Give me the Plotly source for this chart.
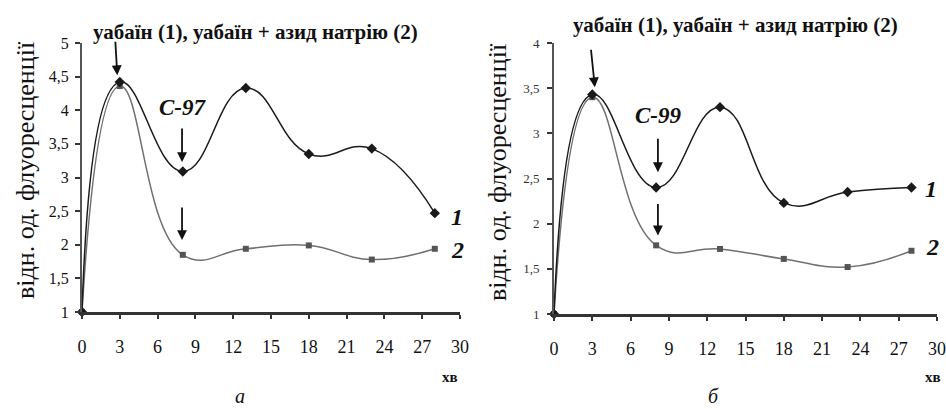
import plotly.graph_objects as go

# ---- data ----
time_a = [0, 3, 8, 13, 18, 23, 28]
a_series1 = [1.0, 4.42, 3.09, 4.33, 3.35, 3.43, 2.47]
a_series2 = [1.0, 4.36, 1.85, 1.94, 1.99, 1.78, 1.94]

time_b = [0, 3, 8, 13, 18, 23, 28]
b_series1 = [1.0, 3.43, 2.40, 3.29, 2.23, 2.35, 2.40]
b_series2 = [1.0, 3.40, 1.76, 1.72, 1.61, 1.52, 1.70]

x_ticks = [0, 3, 6, 9, 12, 15, 18, 21, 24, 27, 30]
a_y_ticks = [1, 1.5, 2, 2.5, 3, 3.5, 4, 4.5, 5]
a_y_ticktext = ["1", "1,5", "2", "2,5", "3", "3,5", "4", "4,5", "5"]
b_y_ticks = [1, 1.5, 2, 2.5, 3, 3.5, 4]
b_y_ticktext = ["1", "1,5", "2", "2,5", "3", "3,5", "4"]

title_text = "уабаїн (1), уабаїн + азид натрію (2)"
y_title = "відн. од. флуоресценції"

W, H = 946, 409
SERIF = "Liberation Serif, DejaVu Serif, serif"
C1 = "#1a1a1a"
C2 = "#707070"


def px(x):
    return x / W


def py(y):
    return 1 - y / H


fig = go.Figure()

for xs, s1, s2, xa, ya in [(time_a, a_series1, a_series2, "x", "y"),
                            (time_b, b_series1, b_series2, "x2", "y2")]:
    fig.add_trace(go.Scatter(x=xs, y=s2, mode="lines+markers", xaxis=xa, yaxis=ya,
                             line=dict(color=C2, width=1.5, shape="spline", smoothing=1.3),
                             marker=dict(symbol="square", size=6, color="#555555"),
                             cliponaxis=False, showlegend=False))
    fig.add_trace(go.Scatter(x=xs, y=s1, mode="lines+markers", xaxis=xa, yaxis=ya,
                             line=dict(color=C1, width=1.5, shape="spline", smoothing=1.3),
                             marker=dict(symbol="diamond", size=8, color=C1),
                             cliponaxis=False, showlegend=False))

xcommon = dict(range=[0, 30], tickvals=x_ticks, showline=True, linecolor="#333333", linewidth=2.5,
               ticks="outside", ticklen=4, tickwidth=1.5, tickcolor="#333333",
               showgrid=False, zeroline=False, ticklabelstandoff=13, automargin=False,
               tickfont=dict(family=SERIF, size=18, color="#111111"))
fig.update_layout(
    width=W, height=H, margin=dict(l=0, r=0, t=0, b=0, pad=0, autoexpand=False),
    paper_bgcolor="white", plot_bgcolor="white",
    xaxis=dict(domain=[px(82), px(460)], anchor="y", **xcommon),
    yaxis=dict(domain=[py(312), py(43)], anchor="x", range=[1, 5], tickvals=a_y_ticks,
               ticktext=a_y_ticktext, showline=True, linecolor="#555555", linewidth=2,
               ticks="outside", ticklen=5, tickwidth=1.5, tickcolor="#333333",
               showgrid=False, zeroline=False, ticklabelstandoff=3, automargin=False,
               tickfont=dict(family=SERIF, size=16, color="#111111")),
    xaxis2=dict(domain=[px(554), px(937)], anchor="y2", **xcommon),
    yaxis2=dict(domain=[py(314), py(43)], anchor="x2", range=[1, 4], tickvals=b_y_ticks,
                ticktext=b_y_ticktext, showline=True, linecolor="#555555", linewidth=2,
                ticks="outside", ticklen=5, tickwidth=1.5, tickcolor="#333333",
                showgrid=False, zeroline=False, ticklabelstandoff=5, automargin=False,
                tickfont=dict(family=SERIF, size=13, color="#333333")),
)

ann = []


def label(text, cx, cy, size, family=SERIF, angle=0):
    ann.append(dict(text=text, x=px(cx), y=py(cy), xref="paper", yref="paper",
                    xanchor="center", yanchor="middle", textangle=angle, showarrow=False,
                    font=dict(family=family, size=size, color="#111111")))


# panel titles
label("<b>" + title_text + "</b>", 255, 32, 21)
label("<b>" + title_text + "</b>", 735, 25, 21)
# y-axis titles
label(y_title, 25, 170, 26, angle=-90)
label(y_title, 498, 172, 26, angle=-90)
# x-axis unit
label("<b>хв</b>", 450, 377, 15)
label("<b>хв</b>", 933, 377, 15)
# panel letters
label("<i>а</i>", 240, 396, 20)
label("<i>б</i>", 713, 396, 20)
# compound labels
label("<b><i>C-97</i></b>", 183, 107, 23)
label("<b><i>C-99</i></b>", 658, 115, 23)
# curve numbers
for cx, cy, t in [(457, 217, "1"), (457, 250, "2"), (931, 189, "1"), (932, 247, "2")]:
    label("<b><i>" + t + "</i></b>", cx, cy, 24)

# arrows (tip in data coords, tail offset in pixels)
arrow_style = dict(text="", showarrow=True, arrowhead=2, arrowsize=1.1, arrowwidth=1.8, arrowcolor="#111111")
for xr, yr, x, y, ax, ay in [("x", "y", 2.8, 4.52, -2, -35),
                             ("x", "y", 7.94, 3.23, 0, -35),
                             ("x", "y", 7.94, 2.07, 0, -34),
                             ("x2", "y2", 3.2, 3.51, -4, -39),
                             ("x2", "y2", 8.14, 2.57, 0, -35),
                             ("x2", "y2", 8.14, 1.87, 0, -33)]:
    ann.append(dict(xref=xr, yref=yr, x=x, y=y, ax=ax, ay=ay, **arrow_style))

fig.update_layout(annotations=ann)
fig.write_html("out.html")
